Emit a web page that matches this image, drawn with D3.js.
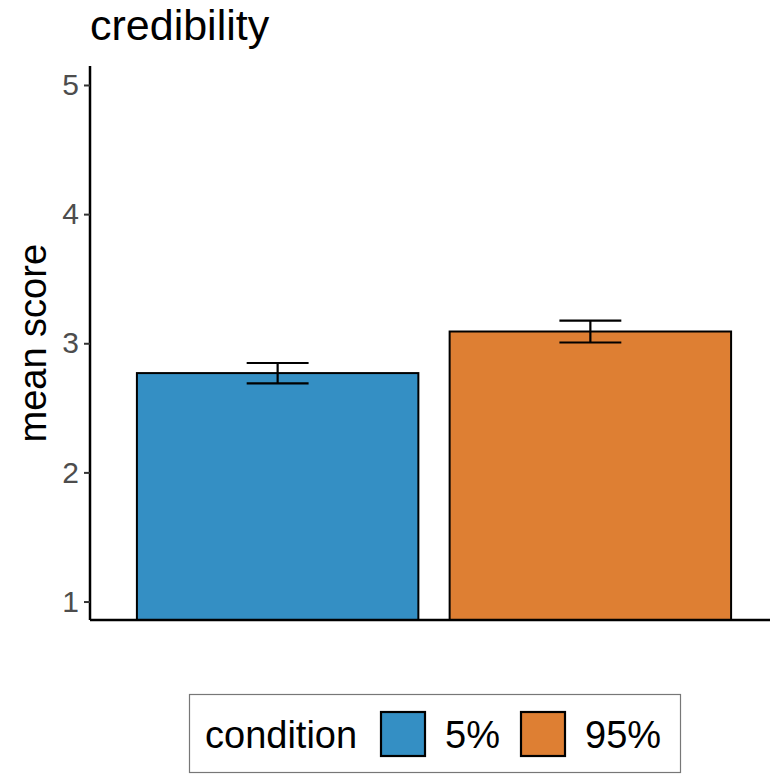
<!DOCTYPE html>
<html>
<head>
<meta charset="utf-8">
<script src="https://cdn.jsdelivr.net/npm/d3@7"></script>
<style>
  body { margin: 0; background: #fff; }
  svg text { font-family: "Liberation Sans", Arial, Helvetica, sans-serif; }
</style>
</head>
<body>
<div id="chart"></div>
<script>
// data
const conditions = ["5%", "95%"];
const means = [2.769, 3.091];
const lower = [2.689, 3.006];
const upper = [2.847, 3.176];
const colors = ["#348FC4", "#DE7F33"];
const yTicks = [1, 2, 3, 4, 5];

const width = 770, height = 774;
const margin = {top: 66, right: -8, bottom: 154, left: 90};
const innerW = width - margin.left - margin.right;
const innerH = height - margin.top - margin.bottom;

const svg = d3.select("#chart").append("svg")
    .attr("width", width)
    .attr("height", height);

const g = svg.append("g")
    .attr("transform", `translate(${margin.left},${margin.top})`);

// scales: ggplot bars are 0.9 wide with 0.6 unit expansion each side
const x = d3.scaleBand()
    .domain(conditions)
    .range([0, innerW])
    .paddingInner(0.1)
    .paddingOuter(0.15);

const y = d3.scaleLinear()
    .domain([0.857, 5.147])
    .range([innerH, 0]);

// clip bars to panel
svg.append("clipPath").attr("id", "panel")
    .append("rect").attr("x", 0).attr("y", 0).attr("width", innerW).attr("height", innerH);

const bars = g.append("g").attr("clip-path", "url(#panel)");

bars.selectAll("rect.bar")
    .data(conditions)
    .enter().append("rect")
    .attr("class", "bar")
    .attr("x", d => x(d))
    .attr("width", x.bandwidth())
    .attr("y", (d, i) => y(means[i]))
    .attr("height", (d, i) => innerH + 10 - y(means[i]))
    .attr("fill", (d, i) => colors[i])
    .attr("stroke", "#000")
    .attr("stroke-width", 2);

// error bars
const capW = x.bandwidth() * 0.22;
const eb = g.append("g").attr("stroke", "#000").attr("stroke-width", 2.2);
conditions.forEach((d, i) => {
    const cx = x(d) + x.bandwidth() / 2;
    eb.append("line")
        .attr("x1", cx).attr("x2", cx)
        .attr("y1", y(lower[i])).attr("y2", y(upper[i]));
    [lower[i], upper[i]].forEach(v => {
        eb.append("line")
            .attr("x1", cx - capW / 2).attr("x2", cx + capW / 2)
            .attr("y1", y(v)).attr("y2", y(v));
    });
});

// y axis
const yAxis = g.append("g")
    .call(d3.axisLeft(y).tickValues(yTicks).tickSize(6).tickPadding(5).tickFormat(d3.format("d")));
yAxis.select(".domain").attr("stroke", "#000").attr("stroke-width", 2.5).attr("d", `M0,0V${innerH}`);
yAxis.selectAll(".tick line").attr("stroke", "#333").attr("stroke-width", 2);
yAxis.selectAll(".tick text")
    .attr("fill", "#4D4D4D")
    .style("font-size", "30px");

// x axis line only
g.append("line")
    .attr("x1", 0).attr("x2", innerW)
    .attr("y1", innerH).attr("y2", innerH)
    .attr("stroke", "#000").attr("stroke-width", 2.5);

// titles
svg.append("text")
    .attr("x", 90).attr("y", 40)
    .style("font-size", "43px")
    .attr("fill", "#000")
    .text("credibility");

svg.append("text")
    .attr("transform", `translate(46, ${margin.top + y(3)}) rotate(-90)`)
    .attr("text-anchor", "middle")
    .style("font-size", "38px")
    .attr("fill", "#000")
    .text("mean score");

// legend
const leg = svg.append("g");
leg.append("rect")
    .attr("x", 189.5).attr("y", 694.5)
    .attr("width", 491).attr("height", 78)
    .attr("fill", "#fff")
    .attr("stroke", "#777").attr("stroke-width", 1.2);

leg.append("text")
    .attr("x", 205).attr("y", 748)
    .style("font-size", "38px")
    .text("condition");

const keyX = [381, 521];
conditions.forEach((d, i) => {
    leg.append("rect")
        .attr("x", keyX[i]).attr("y", 712)
        .attr("width", 44).attr("height", 44)
        .attr("fill", colors[i])
        .attr("stroke", "#000").attr("stroke-width", 2.2);
    leg.append("text")
        .attr("x", keyX[i] + 64).attr("y", 748)
        .style("font-size", "38px")
        .text(d);
});
</script>
</body>
</html>
